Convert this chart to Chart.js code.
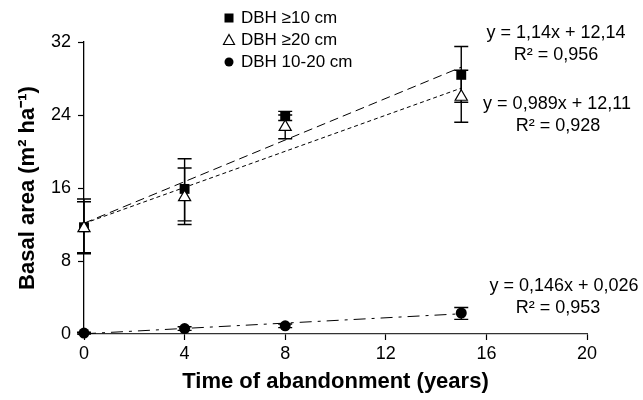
<!DOCTYPE html>
<html>
<head>
<meta charset="utf-8">
<script src="https://cdn.jsdelivr.net/npm/chart.js@4"></script>
<style>
  html, body { margin: 0; padding: 0; background: #fff; }
  #wrap { width: 643px; height: 400px; }
</style>
</head>
<body>
<div id="wrap"><canvas id="chart" width="643" height="400"></canvas></div>
<script>
const years = [0, 4, 8, 15];

const dbh10 = [11.7, 15.9, 23.9, 28.4];
const dbh10Low = [8.8, 12.4, 23.4, 25.4];
const dbh10High = [14.8, 19.2, 24.4, 31.5];

const dbh20 = [11.6, 15.0, 22.7, 26.0];
const dbh20Low = [8.9, 12.0, 21.4, 23.2];
const dbh20High = [14.5, 18.2, 24.0, 28.9];

const dbh1020 = [0.1, 0.6, 0.9, 2.3];
const dbh1020Low = [0.0, 0.4, 0.7, 1.6];
const dbh1020High = [0.2, 0.8, 1.1, 2.9];

const seriesNames = ["DBH \u226510 cm", "DBH \u226520 cm", "DBH 10-20 cm"];
const slopes = [1.14, 0.989, 0.146];
const intercepts = [12.14, 12.11, 0.026];
const eqLabels = ["y = 1,14x + 12,14", "y = 0,989x + 12,11", "y = 0,146x + 0,026"];
const r2Labels = ["R\u00b2 = 0,956", "R\u00b2 = 0,928", "R\u00b2 = 0,953"];
const fitRange = [0, 15];

const xTicks = [0, 4, 8, 12, 16, 20];
const yTicks = [0, 8, 16, 24, 32];

const FONT = "'Liberation Sans', Arial, sans-serif";

function pts(ys) {
  return years.map((x, i) => ({ x: x, y: ys[i] }));
}
function fitLine(k) {
  return fitRange.map((x) => ({ x: x, y: slopes[k] * x + intercepts[k] }));
}

// error bars, drawn under the markers
const errorBars = {
  id: "errorBars",
  beforeDatasetsDraw(chart) {
    const { ctx, scales: { x, y } } = chart;
    const sets = [[dbh10Low, dbh10High], [dbh20Low, dbh20High], [dbh1020Low, dbh1020High]];
    ctx.save();
    ctx.strokeStyle = "#000";
    ctx.lineWidth = 1.4;
    sets.forEach(([lo, hi]) => {
      years.forEach((yr, i) => {
        const px = x.getPixelForValue(yr);
        const y1 = y.getPixelForValue(lo[i]);
        const y2 = y.getPixelForValue(hi[i]);
        ctx.beginPath();
        ctx.moveTo(px, y1); ctx.lineTo(px, y2);
        ctx.moveTo(px - 7, y1); ctx.lineTo(px + 7, y1);
        ctx.moveTo(px - 7, y2); ctx.lineTo(px + 7, y2);
        ctx.stroke();
      });
    });
    ctx.restore();
  }
};

// legend top-left and the regression equations
const labels = {
  id: "labels",
  afterDraw(chart) {
    const ctx = chart.ctx;
    ctx.save();
    ctx.fillStyle = "#000";
    ctx.strokeStyle = "#000";
    ctx.font = "17px " + FONT;
    ctx.textBaseline = "middle";
    ctx.textAlign = "left";
    const ly = [18, 40, 62];
    const mx = 229;
    // square
    ctx.fillRect(mx - 4.5, ly[0] - 4.5, 9, 9);
    // triangle
    ctx.lineWidth = 1.2;
    ctx.beginPath();
    ctx.moveTo(mx, ly[1] - 5.5);
    ctx.lineTo(mx + 5.5, ly[1] + 4.5);
    ctx.lineTo(mx - 5.5, ly[1] + 4.5);
    ctx.closePath();
    ctx.fillStyle = "#fff"; ctx.fill(); ctx.stroke();
    ctx.fillStyle = "#000";
    // circle
    ctx.beginPath();
    ctx.arc(mx, ly[2], 4.5, 0, Math.PI * 2);
    ctx.fill();
    seriesNames.forEach((n, i) => ctx.fillText(n, 241, ly[i]));

    ctx.font = "18px " + FONT;
    ctx.textAlign = "center";
    const eqPos = [[556, 33], [557, 104], [564, 286]];
    const r2Pos = [[556, 55], [558, 126], [558, 308]];
    eqLabels.forEach((t, i) => ctx.fillText(t, eqPos[i][0], eqPos[i][1]));
    r2Labels.forEach((t, i) => ctx.fillText(t, r2Pos[i][0], r2Pos[i][1]));
    ctx.restore();
  }
};

const ctx = document.getElementById("chart").getContext("2d");
new Chart(ctx, {
  type: "scatter",
  data: {
    datasets: [
      {
        type: "line", data: fitLine(0), borderColor: "#000", borderWidth: 1,
        borderDash: [9, 5], pointRadius: 0, fill: false, order: 5, clip: false
      },
      {
        type: "line", data: fitLine(1), borderColor: "#000", borderWidth: 1,
        borderDash: [4, 3], pointRadius: 0, fill: false, order: 5, clip: false
      },
      {
        type: "line", data: fitLine(2), borderColor: "#000", borderWidth: 1,
        borderDash: [12, 6, 3, 6], pointRadius: 0, fill: false, order: 5, clip: false
      },
      {
        label: seriesNames[0], data: pts(dbh10), pointStyle: "rect", clip: false,
        pointRadius: 7, backgroundColor: "#000", borderColor: "#000", borderWidth: 0, order: 3
      },
      {
        label: seriesNames[1], data: pts(dbh20), pointStyle: "triangle", clip: false,
        pointRadius: 7, backgroundColor: "#fff", borderColor: "#000", borderWidth: 1.2, order: 2
      },
      {
        label: seriesNames[2], data: pts(dbh1020), pointStyle: "circle", clip: false,
        pointRadius: 5.5, backgroundColor: "#000", borderColor: "#000", borderWidth: 0, order: 1
      }
    ]
  },
  options: {
    responsive: false,
    animation: false,
    layout: { padding: { left: 0, right: 56, top: 42, bottom: 0 } },
    plugins: {
      legend: { display: false },
      tooltip: { enabled: false }
    },
    scales: {
      x: {
        type: "linear",
        min: 0, max: 20,
        afterBuildTicks: (s) => { s.ticks = xTicks.map((v) => ({ value: v })); },
        afterFit: (s) => { s.height = 66; },
        grid: { drawOnChartArea: false, drawTicks: true, tickLength: 6, color: "#000", tickWidth: 1.2 },
        border: { display: true, color: "#333", width: 1.3 },
        ticks: { color: "#000", padding: 3, font: { family: FONT, size: 18 } },
        title: {
          display: true, text: "Time of abandonment (years)", color: "#000",
          padding: { top: 0, bottom: 5 }, font: { family: FONT, size: 22, weight: "bold" }
        }
      },
      y: {
        type: "linear",
        min: 0, max: 32,
        afterBuildTicks: (s) => { s.ticks = yTicks.map((v) => ({ value: v })); },
        afterFit: (s) => { s.width = 84; },
        grid: { drawOnChartArea: false, drawTicks: true, tickLength: 6, color: "#000", tickWidth: 1.2 },
        border: { display: true, color: "#000", width: 1.3 },
        ticks: { color: "#000", padding: 7, font: { family: FONT, size: 18 } },
        title: {
          display: true, text: "Basal area (m\u00b2 ha\u207b\u00b9)", color: "#000",
          padding: { top: 15, bottom: 0 }, font: { family: FONT, size: 22, weight: "bold" }
        }
      }
    }
  },
  plugins: [errorBars, labels]
});
</script>
</body>
</html>
